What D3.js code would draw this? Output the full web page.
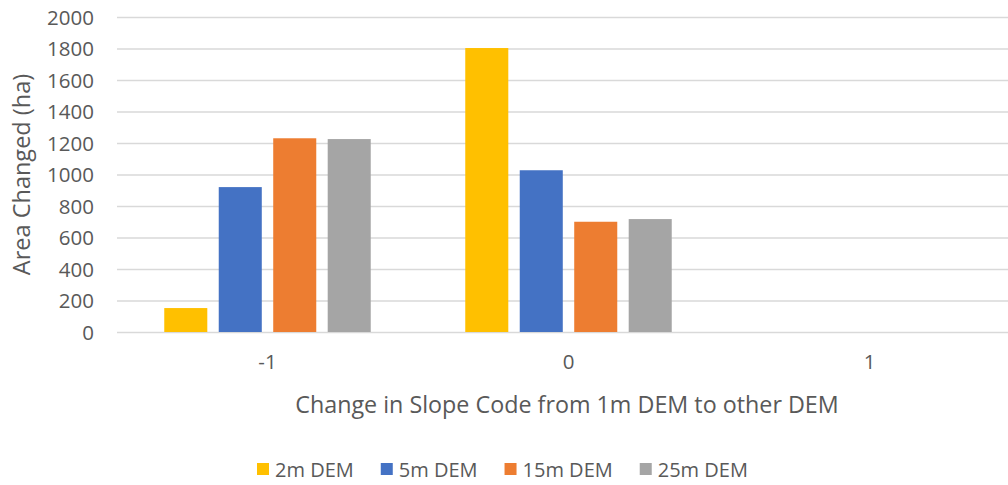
<!DOCTYPE html>
<html>
<head>
<meta charset="utf-8">
<script src="https://cdn.jsdelivr.net/npm/d3@7"></script>
<style>
  html, body { margin: 0; padding: 0; background: #fff; }
  svg { display: block; font-family: "Open Sans", sans-serif; }
  svg text { font-family: "Open Sans", sans-serif; }
</style>
</head>
<body>
<svg id="chart" width="1008" height="485"></svg>
<script>
// Slope code change categories and area changed per DEM resolution (ha)
const categories = ["-1", "0", "1"];
const seriesNames = ["2m DEM", "5m DEM", "15m DEM", "25m DEM"];
const dem2m  = [152, 1803, 0];
const dem5m  = [920, 1027, 0];
const dem15m = [1230, 700, 0];
const dem25m = [1225, 717, 0];
const yTicks = [0, 200, 400, 600, 800, 1000, 1200, 1400, 1600, 1800, 2000];
const colors = ["#FFC000", "#4472C4", "#ED7D31", "#A5A5A5"];

const seriesValues = [dem2m, dem5m, dem15m, dem25m];
const rows = categories.map((c, i) => ({
  category: c,
  values: seriesNames.map((s, j) => ({ series: s, value: seriesValues[j][i] }))
}));

const svg = d3.select("#chart");
const plot = { left: 117, right: 1020, top: 17, bottom: 332 };

const x0 = d3.scaleBand()
  .domain(categories)
  .range([plot.left, plot.right])
  .paddingInner(0.314)
  .paddingOuter(0.157);

const x1 = d3.scaleBand()
  .domain(seriesNames)
  .range([0, x0.bandwidth()])
  .paddingInner(0.21)
  .paddingOuter(0);

const y = d3.scaleLinear().domain([0, 2000]).range([plot.bottom, plot.top]);
const color = d3.scaleOrdinal().domain(seriesNames).range(colors);

// Horizontal gridlines with tick labels
const yAxis = d3.axisLeft(y)
  .tickValues(yTicks)
  .tickSize(-(plot.right - plot.left))
  .tickPadding(23)
  .tickFormat(d3.format("d"));

const gy = svg.append("g")
  .attr("transform", `translate(${plot.left},0)`)
  .call(yAxis)
  .attr("font-family", null)
  .attr("font-size", null);
gy.select(".domain").remove();
gy.selectAll(".tick line").attr("stroke", "#d9d9d9").attr("stroke-width", 1.3);
gy.selectAll(".tick text")
  .attr("fill", "#595959")
  .attr("font-size", 20.5)
  .attr("dy", "0.35em");

// Grouped bars
const groups = svg.append("g").selectAll("g")
  .data(rows)
  .join("g")
  .attr("transform", d => `translate(${x0(d.category)},0)`);

groups.selectAll("rect")
  .data(d => d.values)
  .join("rect")
  .attr("x", d => x1(d.series))
  .attr("y", d => y(d.value))
  .attr("width", x1.bandwidth())
  .attr("height", d => y(0) - y(d.value))
  .attr("fill", d => color(d.series));

// Category axis labels
const xAxis = d3.axisBottom(x0).tickSize(0).tickPadding(22);
const gx = svg.append("g")
  .attr("transform", `translate(0,${plot.bottom})`)
  .call(xAxis)
  .attr("font-family", null)
  .attr("font-size", null);
gx.select(".domain").remove();
gx.selectAll(".tick text")
  .attr("fill", "#595959")
  .attr("font-size", 20.5);

// Axis titles
svg.append("text")
  .attr("transform", `translate(30,${(plot.top + plot.bottom) / 2}) rotate(-90)`)
  .attr("text-anchor", "middle")
  .attr("fill", "#595959")
  .attr("font-size", 23.5)
  .text("Area Changed (ha)");

svg.append("text")
  .attr("x", 567)
  .attr("y", 413)
  .attr("text-anchor", "middle")
  .attr("fill", "#595959")
  .attr("font-size", 23.3)
  .text("Change in Slope Code from 1m DEM to other DEM");

// Legend
const legend = svg.append("g").attr("transform", "translate(0,470)");
let lx = 257;
seriesNames.forEach(name => {
  const item = legend.append("g").attr("transform", `translate(${lx},0)`);
  item.append("rect")
    .attr("x", 0).attr("y", -7)
    .attr("width", 12).attr("height", 12)
    .attr("fill", color(name));
  const t = item.append("text")
    .attr("x", 18).attr("y", 0)
    .attr("dy", "0.35em")
    .attr("fill", "#595959")
    .attr("font-size", 20)
    .text(name);
  lx += 18 + t.node().getComputedTextLength() + 27;
});
</script>
</body>
</html>
